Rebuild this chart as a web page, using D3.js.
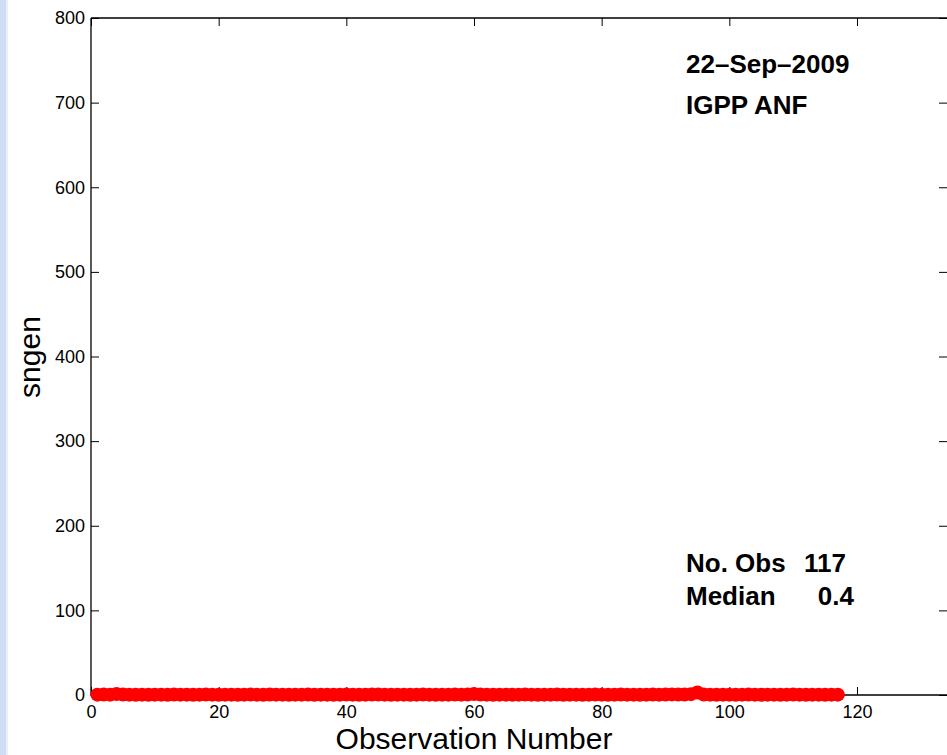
<!DOCTYPE html>
<html>
<head>
<meta charset="utf-8">
<script src="https://cdn.jsdelivr.net/npm/d3@7"></script>
<style>
  html, body { margin: 0; padding: 0; background: #fff; }
  svg { display: block; font-family: "Liberation Sans", Arial, Helvetica, sans-serif; }
</style>
</head>
<body>
<svg id="chart" width="947" height="755"></svg>
<script>
// sngen per observation, IGPP ANF, 22-Sep-2009
const obsValues = [
  0.4, 0.5, 0.4, 1.2, 0.6, 0.4, 0.3, 0.4, 0.3, 0.4,
  0.4, 0.3, 0.5, 0.4, 0.4, 0.3, 0.4, 0.5, 0.4, 0.3,
  0.4, 0.4, 0.3, 0.4, 0.5, 0.4, 0.3, 0.6, 0.4, 0.4,
  0.3, 0.4, 0.4, 0.5, 0.3, 0.4, 0.4, 0.3, 0.4, 0.5,
  0.4, 0.3, 0.4, 0.6, 0.5, 0.4, 0.3, 0.4, 0.4, 0.3,
  0.4, 0.5, 0.4, 0.3, 0.4, 0.4, 0.5, 0.4, 0.6, 1.1,
  0.5, 0.4, 0.3, 0.4, 0.4, 0.3, 0.4, 0.5, 0.4, 0.3,
  0.4, 0.4, 0.5, 0.3, 0.4, 0.4, 0.3, 0.4, 0.5, 0.4,
  0.3, 0.4, 0.6, 0.4, 0.4, 0.3, 0.4, 0.5, 0.4, 0.6,
  0.7, 0.5, 0.6, 1.0, 3.0, 0.6, 0.4, 0.3, 0.4, 0.4,
  0.3, 0.4, 0.5, 0.4, 0.3, 0.4, 0.4, 0.3, 0.4, 0.5,
  0.4, 0.3, 0.4, 0.4, 0.3, 0.4, 0.4
];
const xTicks = [0, 20, 40, 60, 80, 100, 120];
const yTicks = [0, 100, 200, 300, 400, 500, 600, 700, 800];
const infoTop = ["22\u2013Sep\u20132009", "IGPP ANF"];
const infoBottom = [["No. Obs", "117"], ["Median", "0.4"]];

const svg = d3.select("#chart");
const plotLeft = 91, plotRight = 947, plotTop = 18, plotBottom = 695;

// light window edge on the far left
svg.append("rect").attr("x", 0).attr("y", 0).attr("width", 6).attr("height", 755).attr("fill", "#cfdcf1");
svg.append("rect").attr("x", 6).attr("y", 0).attr("width", 2).attr("height", 755).attr("fill", "#eaf0f9");

const x = d3.scaleLinear().domain([0, 134.1]).range([plotLeft, plotRight]);
const y = d3.scaleLinear().domain([0, 800]).range([plotBottom, plotTop]);

const tickLen = 8;
const axisG = svg.append("g");

function styleAxis(g) {
  g.select(".domain").remove();
  g.selectAll(".tick line").attr("stroke", "#000").attr("stroke-width", 1);
  g.selectAll(".tick text").attr("fill", "#000").style("font-size", "18px");
}

// bottom axis with labels, ticks pointing inward
axisG.append("g")
  .attr("transform", `translate(0,${plotBottom})`)
  .call(d3.axisBottom(x).tickValues(xTicks).tickSize(-tickLen).tickPadding(10))
  .call(styleAxis);
// top axis, ticks only
axisG.append("g")
  .attr("transform", `translate(0,${plotTop})`)
  .call(d3.axisTop(x).tickValues(xTicks).tickSize(-tickLen).tickFormat(""))
  .call(styleAxis);
// left axis with labels
axisG.append("g")
  .attr("transform", `translate(${plotLeft},0)`)
  .call(d3.axisLeft(y).tickValues(yTicks).tickSize(-tickLen).tickPadding(6))
  .call(styleAxis);
// right axis, ticks only
axisG.append("g")
  .attr("transform", `translate(${plotRight},0)`)
  .call(d3.axisRight(y).tickValues(yTicks).tickSize(-tickLen).tickFormat(""))
  .call(styleAxis);

// axes box
svg.append("path")
  .attr("d", `M${plotLeft},${plotTop}H${plotRight}M${plotLeft},${plotTop}V${plotBottom}H${plotRight}`)
  .attr("fill", "none").attr("stroke", "#000").attr("stroke-width", 1.3);

// observations
svg.append("g").selectAll("circle")
  .data(obsValues)
  .join("circle")
  .attr("cx", (d, i) => x(i + 1))
  .attr("cy", d => y(d))
  .attr("r", 7)
  .attr("fill", "#ff0000");

// axis labels
svg.append("text")
  .attr("x", 474).attr("y", 749)
  .attr("text-anchor", "middle")
  .style("font-size", "30px")
  .text("Observation Number");
svg.append("text")
  .attr("transform", `translate(40,357) rotate(-90)`)
  .attr("text-anchor", "middle")
  .style("font-size", "30px")
  .text("sngen");

// station / date block
svg.append("g").selectAll("text")
  .data(infoTop)
  .join("text")
  .attr("x", 686)
  .attr("y", (d, i) => 73 + i * 41)
  .style("font-size", "26px").style("font-weight", "bold")
  .text(d => d);

// summary block
const summary = svg.append("g").selectAll("g")
  .data(infoBottom)
  .join("g")
  .attr("transform", (d, i) => `translate(0,${572 + i * 33})`);
summary.append("text")
  .attr("x", 686)
  .style("font-size", "26px").style("font-weight", "bold")
  .text(d => d[0]);
summary.append("text")
  .attr("x", (d, i) => i === 0 ? 846 : 854)
  .attr("text-anchor", "end")
  .style("font-size", "26px").style("font-weight", "bold")
  .text(d => d[1]);
</script>
</body>
</html>
